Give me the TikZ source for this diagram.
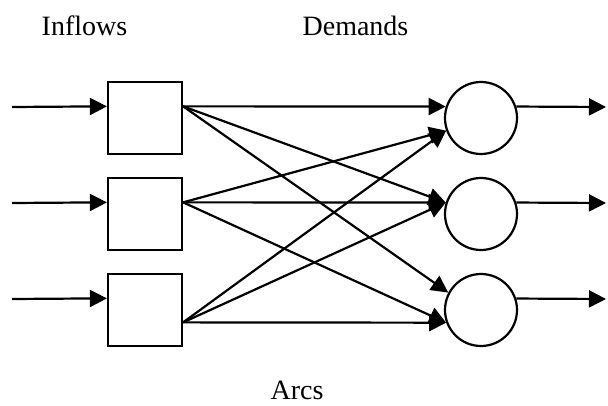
\documentclass[tikz,border=0pt]{standalone}
\usepackage{fontspec}
\setmainfont{Liberation Serif}
\usetikzlibrary{arrows.meta}

\tikzset{
    flowline/.style={line width=2.2pt, -{Triangle[length=17pt, width=17pt]}},
    supply/.style={draw, line width=2.2pt, minimum width=74pt, minimum height=72pt, inner sep=0pt},
    demand/.style={draw, circle, line width=2.2pt, minimum size=72pt, inner sep=0pt},
    heading/.style={anchor=base, font=\fontsize{28}{33}\selectfont}
}

\begin{document}
\begin{tikzpicture}[x=1pt, y=-1pt]
    \useasboundingbox (0,0) rectangle (608,406);
    % labels
    \node[heading] (inflows) at (84.5,36) {Inflows};
    \node[heading] (demands) at (355.5,36) {Demands};
    \node[heading] (arcs) at (297,399) {Arcs};
    % reservoirs and demand points
    \foreach \i/\y in {1/118, 2/214, 3/310} {
        \node[supply] (s\i) at (145,\y) {};
        \node[demand] (c\i) at (481,\y) {};
        \coordinate (in\i) at (12,\y-11);
        \coordinate (out\i) at (606,\y-11);
        \draw[flowline] (in\i) -- (s\i.163);
        \draw[flowline] (c\i.18) -- (out\i);
    }
    % arcs
    \draw[flowline] (s1.17) -- (c1.162);
    \draw[flowline] (s1.17) -- (c2.162);
    \draw[flowline] (s1.17) -- (c3.152);
    \draw[flowline] (s2.17) -- (c1.200);
    \draw[flowline] (s2.17) -- (c2.162);
    \draw[flowline] (s2.17) -- (c3.200);
    \draw[flowline] (s3.-18) -- (c1.200);
    \draw[flowline] (s3.-18) -- (c2.162);
    \draw[flowline] (s3.-18) -- (c3.200);
\end{tikzpicture}
\end{document}
